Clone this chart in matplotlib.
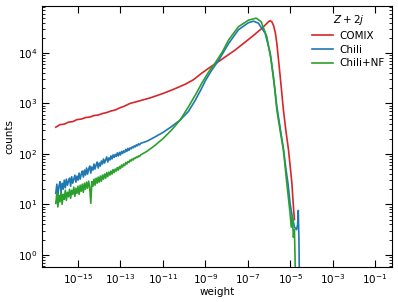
import numpy as np
import matplotlib
matplotlib.use("Agg")
import matplotlib.pyplot as plt
from matplotlib.ticker import LogLocator, NullLocator

# log10(weight), log10(counts)
comix_lw = [-16.05, -15.85, -15.65, -15.45, -15.25, -15.05, -14.85, -14.65, -14.45, -14.25,
            -14.05, -13.85, -13.65, -13.45, -13.25, -13.05, -12.85, -12.55, -12.2, -11.6,
            -10.98, -10.5, -9.95, -9.56, -9.17, -8.8, -8.38, -8.0, -7.59, -7.2,
            -6.81, -6.33, -6.02, -5.95, -5.87, -5.79, -5.70, -5.63, -5.47, -5.32,
            -5.2, -5.08, -4.92, -4.87, -4.83, -4.80]
comix_lc = [2.53, 2.58, 2.59, 2.63, 2.64, 2.68, 2.69, 2.72, 2.73, 2.76,
            2.77, 2.80, 2.82, 2.85, 2.87, 2.91, 2.94, 3.00, 3.04, 3.11,
            3.20, 3.28, 3.38, 3.47, 3.60, 3.71, 3.83, 3.94, 4.06, 4.19,
            4.32, 4.49, 4.62, 4.64, 4.62, 4.55, 4.40, 4.19, 3.53, 2.87,
            2.45, 2.08, 1.42, 1.09, 0.85, 0.70]

chili_lw = [-16.05, -16.00, -15.95, -15.90, -15.85, -15.80, -15.75, -15.70, -15.65, -15.60,
            -15.55, -15.50, -15.45, -15.40, -15.35, -15.30, -15.25, -15.20, -15.15, -15.10,
            -15.05, -15.00, -14.95, -14.90, -14.85, -14.80, -14.75, -14.70, -14.65, -14.60,
            -14.55, -14.50, -14.45, -14.40, -14.35, -14.30, -14.25, -14.20, -14.15, -14.10,
            -14.05, -14.00, -13.95, -13.90, -13.85, -13.80, -13.75, -13.70, -13.65, -13.60,
            -13.55, -13.50, -13.45, -13.40, -13.35, -13.30, -13.25, -13.20, -13.15, -13.10,
            -13.05, -13.00, -12.95, -12.90, -12.85, -12.80, -12.75, -12.70, -12.65, -12.60,
            -12.55, -12.50, -12.45, -12.40, -12.35, -12.30, -12.25, -12.20, -12.15, -12.10,
            -12.05, -11.76, -11.4, -10.98, -10.6, -10.19, -9.8, -9.48, -9.2, -9.0,
            -8.7, -8.38, -7.9, -7.44, -6.97, -6.73, -6.5, -6.18, -5.94, -5.79,
            -5.63, -5.45, -5.32, -5.2, -5.1, -5.0, -4.9, -4.8, -4.7, -4.65,
            -4.62, -4.59, -4.57]
chili_lc = [1.22, 1.40, 1.18, 1.36, 1.45, 1.25, 1.42, 1.30, 1.48, 1.33,
            1.50, 1.38, 1.46, 1.52, 1.36, 1.55, 1.42, 1.50, 1.58, 1.44,
            1.56, 1.48, 1.62, 1.50, 1.60, 1.66, 1.54, 1.68, 1.58, 1.72,
            1.60, 1.70, 1.76, 1.62, 1.74, 1.68, 1.80, 1.70, 1.78, 1.84,
            1.72, 1.82, 1.76, 1.86, 1.80, 1.90, 1.82, 1.88, 1.94, 1.84,
            1.92, 1.88, 1.96, 1.90, 1.98, 1.93, 1.99, 1.95, 2.02, 1.96,
            2.03, 1.98, 2.05, 2.01, 2.06, 2.03, 2.09, 2.05, 2.11, 2.07,
            2.12, 2.10, 2.14, 2.12, 2.16, 2.14, 2.18, 2.16, 2.20, 2.18,
            2.21, 2.25, 2.33, 2.43, 2.54, 2.67, 2.84, 3.06, 3.28, 3.45,
            3.66, 3.85, 4.19, 4.46, 4.60, 4.63, 4.59, 4.39, 3.99, 3.53,
            2.94, 2.45, 2.10, 1.70, 1.40, 1.00, 0.75, 0.55, 0.50, 0.60,
            0.88, 0.35, -0.30]

chilinf_lw = [-16.05, -16.00, -15.95, -15.90, -15.85, -15.80, -15.75, -15.70, -15.65, -15.60,
              -15.55, -15.50, -15.45, -15.40, -15.35, -15.30, -15.25, -15.20, -15.15, -15.10,
              -15.05, -15.00, -14.95, -14.90, -14.85, -14.80, -14.75, -14.70, -14.65, -14.60,
              -14.55, -14.50, -14.45, -14.40, -14.35, -14.30, -14.25, -14.20, -14.15, -14.10,
              -14.05, -14.00, -13.95, -13.90, -13.85, -13.80, -13.75, -13.70, -13.65, -13.60,
              -13.55, -13.50, -13.45, -13.40, -13.35, -13.30, -13.25, -13.20, -13.15, -13.10,
              -13.05, -13.00, -12.95, -12.90, -12.85, -12.80, -12.75, -12.70, -12.65, -12.60,
              -12.55, -12.50, -12.45, -12.40, -12.35, -12.30, -12.25, -12.20, -12.15, -12.10,
              -12.05, -11.76, -11.4, -10.98, -10.6, -10.19, -9.8, -9.4, -9.17, -8.85,
              -8.54, -8.2, -7.9, -7.44, -6.97, -6.6, -6.37, -6.10, -5.90, -5.74,
              -5.63, -5.45, -5.32, -5.16, -5.0, -4.95, -4.9, -4.85, -4.8, -4.76]
chilinf_lc = [1.02, 1.22, 0.95, 1.18, 1.05, 1.25, 1.00, 1.20, 1.10, 1.28,
              1.08, 1.24, 1.15, 1.30, 1.12, 1.28, 1.20, 1.34, 1.16, 1.32,
              1.22, 1.36, 1.20, 1.38, 1.26, 1.40, 1.24, 1.42, 1.30, 1.44,
              1.32, 1.46, 1.34, 1.02, 1.45, 1.36, 1.50, 1.38, 1.52, 1.42,
              1.54, 1.44, 1.56, 1.46, 1.58, 1.50, 1.60, 1.52, 1.63, 1.55,
              1.64, 1.58, 1.66, 1.60, 1.69, 1.63, 1.70, 1.66, 1.73, 1.68,
              1.75, 1.71, 1.78, 1.74, 1.80, 1.77, 1.83, 1.80, 1.85, 1.83,
              1.88, 1.86, 1.90, 1.88, 1.92, 1.91, 1.94, 1.93, 1.96, 1.95,
              1.98, 2.05, 2.16, 2.31, 2.47, 2.67, 2.93, 3.22, 3.40, 3.62,
              3.80, 4.02, 4.26, 4.52, 4.65, 4.69, 4.62, 4.32, 3.86, 3.33,
              2.87, 2.40, 2.08, 1.42, 0.80, 0.55, 0.75, 0.35, 0.50, -0.30]

series = [
    ("COMIX", comix_lw, comix_lc, "#d62728"),
    ("Chili", chili_lw, chili_lc, "#1f77b4"),
    ("Chili+NF", chilinf_lw, chilinf_lc, "#2ca02c"),
]

fig = plt.figure(figsize=(3.98, 3.02), dpi=100)
ax = fig.add_axes([0.1055, 0.116, 0.8795, 0.864])

for label, lw, lc, color in series:
    ax.plot(10.0 ** np.array(lw), 10.0 ** np.array(lc), color=color, lw=1.2, label=label)

ax.set_xscale("log")
ax.set_yscale("log")
ax.set_xlim(10 ** -16.7, 10 ** -0.2)
ax.set_ylim(10 ** -0.24, 10 ** 4.93)
ax.set_xticks(10.0 ** np.arange(-15, 0, 2))
ax.xaxis.set_minor_locator(NullLocator())
ax.yaxis.set_major_locator(LogLocator(base=10, numticks=10))
ax.yaxis.set_minor_locator(LogLocator(base=10, subs=np.arange(2, 10), numticks=10))

ax.tick_params(which="both", direction="in", top=True, right=True, labelsize=7.5)
ax.tick_params(which="major", length=5)
ax.tick_params(which="minor", length=2.5)

ax.set_xlabel("weight", fontsize=7.5, labelpad=1)
ax.set_ylabel("counts", fontsize=7.5, labelpad=2)

leg = ax.legend(title="$Z+2j$", loc="upper right", frameon=False, fontsize=7.5,
                title_fontsize=7.5, handlelength=2.0, handletextpad=0.6,
                labelspacing=0.35, borderaxespad=0.3)

fig.savefig("out.png", dpi=100)
